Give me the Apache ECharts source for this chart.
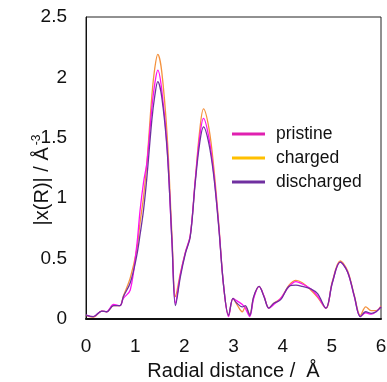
<!DOCTYPE html>
<html>
<head>
<meta charset="utf-8">
<script src="https://cdn.jsdelivr.net/npm/echarts@6/dist/echarts.min.js"></script>
<style>html,body{margin:0;padding:0;background:#fff}#c{width:387px;height:382px}</style>
</head>
<body>
<div id="c"></div>
<script>
var xs = [0, 0.15, 0.32, 0.42, 0.56, 0.69, 0.76, 0.9, 1.03, 1.1, 1.17, 1.24, 1.34, 1.4, 1.46, 1.54, 1.65, 1.75, 1.82, 1.92, 2.02, 2.12, 2.22, 2.31, 2.39, 2.5, 2.6, 2.7, 2.8, 2.9, 2.99, 3.07, 3.18, 3.24, 3.33, 3.41, 3.52, 3.62, 3.72, 3.82, 3.96, 4.13, 4.27, 4.40, 4.57, 4.71, 4.88, 5.01, 5.17, 5.32, 5.46, 5.58, 5.69, 5.80, 5.9, 6.0];
var pristine = [0.033, 0.02, 0.066, 0.06, 0.12, 0.11, 0.17, 0.24, 0.60, 0.9, 1.13, 1.3, 1.75, 1.95, 2.06, 1.9, 1.42, 0.62, 0.13, 0.37, 0.55, 0.69, 1.14, 1.5, 1.66, 1.5, 1.2, 0.77, 0.27, 0.02, 0.17, 0.15, 0.12, 0.09, 0.02, 0.17, 0.27, 0.19, 0.09, 0.12, 0.17, 0.27, 0.31, 0.29, 0.25, 0.19, 0.09, 0.30, 0.47, 0.39, 0.18, 0.02, 0.05, 0.04, 0.06, 0.10];
var charged = [0.03, 0.015, 0.066, 0.06, 0.11, 0.11, 0.19, 0.34, 0.57, 0.8, 1.01, 1.3, 1.85, 2.08, 2.19, 2.05, 1.52, 0.68, 0.185, 0.38, 0.55, 0.69, 1.14, 1.55, 1.74, 1.58, 1.25, 0.79, 0.27, 0.03, 0.17, 0.12, 0.06, 0.10, 0.04, 0.18, 0.27, 0.19, 0.09, 0.13, 0.17, 0.28, 0.32, 0.30, 0.24, 0.18, 0.09, 0.31, 0.48, 0.40, 0.19, 0.03, 0.10, 0.07, 0.07, 0.11];
var discharged = [0.033, 0.02, 0.066, 0.06, 0.11, 0.11, 0.185, 0.30, 0.52, 0.7, 0.9, 1.18, 1.65, 1.85, 1.965, 1.84, 1.40, 0.63, 0.11, 0.35, 0.54, 0.68, 1.12, 1.45, 1.59, 1.45, 1.18, 0.76, 0.27, 0.03, 0.17, 0.13, 0.10, 0.11, 0.03, 0.185, 0.27, 0.185, 0.09, 0.13, 0.16, 0.27, 0.28, 0.27, 0.25, 0.21, 0.09, 0.30, 0.47, 0.39, 0.185, 0.02, 0.06, 0.047, 0.06, 0.10];
var seriesNames = ['pristine', 'charged', 'discharged'];
var lineColors = ['#FF10F0', '#F4923E', '#7030A0'];
var legendColors = ['#E020B0', '#FFC000', '#7030A0'];
var xTicks = [0, 1, 2, 3, 4, 5, 6];
var yTicks = [0, 0.5, 1, 1.5, 2, 2.5];

function pairs(v){ return xs.map(function(x,i){ return [x, v[i]]; }); }
var values = [pristine, charged, discharged];
var FONT = '"Liberation Sans", Arial, sans-serif';

var chart = echarts.init(document.getElementById('c'));
chart.setOption({
  animation: false,
  grid: {left: 86, right: 6, top: 17, bottom: 63, show: true, borderColor: '#222', borderWidth: 1,
    containLabel: false, outerBoundsMode: 'none'},
  legend: {
    orient: 'vertical', left: 227, top: 120, icon: 'rect', itemWidth: 33, itemHeight: 3, itemGap: 6,
    textStyle: {fontFamily: FONT, fontSize: 17.5, color: '#111', lineHeight: 18, padding: [0, 0, 0, 6]},
    data: seriesNames.map(function(n, i){ return {name: n, itemStyle: {color: legendColors[i]}}; })
  },
  xAxis: {
    type: 'value', min: xTicks[0], max: xTicks[xTicks.length-1], interval: 1,
    name: 'Radial distance /  Å', nameLocation: 'middle', nameGap: 42, nameMoveOverlap: false,
    nameTextStyle: {fontFamily: FONT, fontSize: 20, color: '#111'},
    axisLine: {show: true, lineStyle: {color: '#111', width: 2}},
    axisTick: {show: false}, splitLine: {show: false},
    axisLabel: {fontFamily: FONT, fontSize: 19, color: '#111', margin: 18}
  },
  yAxis: {
    type: 'value', min: yTicks[0], max: yTicks[yTicks.length-1], interval: 0.5,
    name: '|x(R)| / Å{s|-3}', nameLocation: 'middle', nameGap: 33, nameMoveOverlap: false,
    nameTextStyle: {fontFamily: FONT, fontSize: 20, color: '#111', padding: [0, 24, 0, 0],
      rich: {s: {fontFamily: FONT, fontSize: 12, color: '#111', padding: [0, 0, 10, 2]}}},
    axisLine: {show: true, lineStyle: {color: '#111', width: 1}},
    axisTick: {show: false}, splitLine: {show: false},
    axisLabel: {fontFamily: FONT, fontSize: 19, color: '#111', margin: 19}
  },
  series: seriesNames.map(function(n, i){
    return {
      name: n, type: 'line', data: pairs(values[i]), smooth: 0.35, showSymbol: false,
      z: [2, 1, 3][i],
      itemStyle: {color: legendColors[i]},
      lineStyle: {color: lineColors[i], width: 1.3}
    };
  })
});
</script>
</body>
</html>
